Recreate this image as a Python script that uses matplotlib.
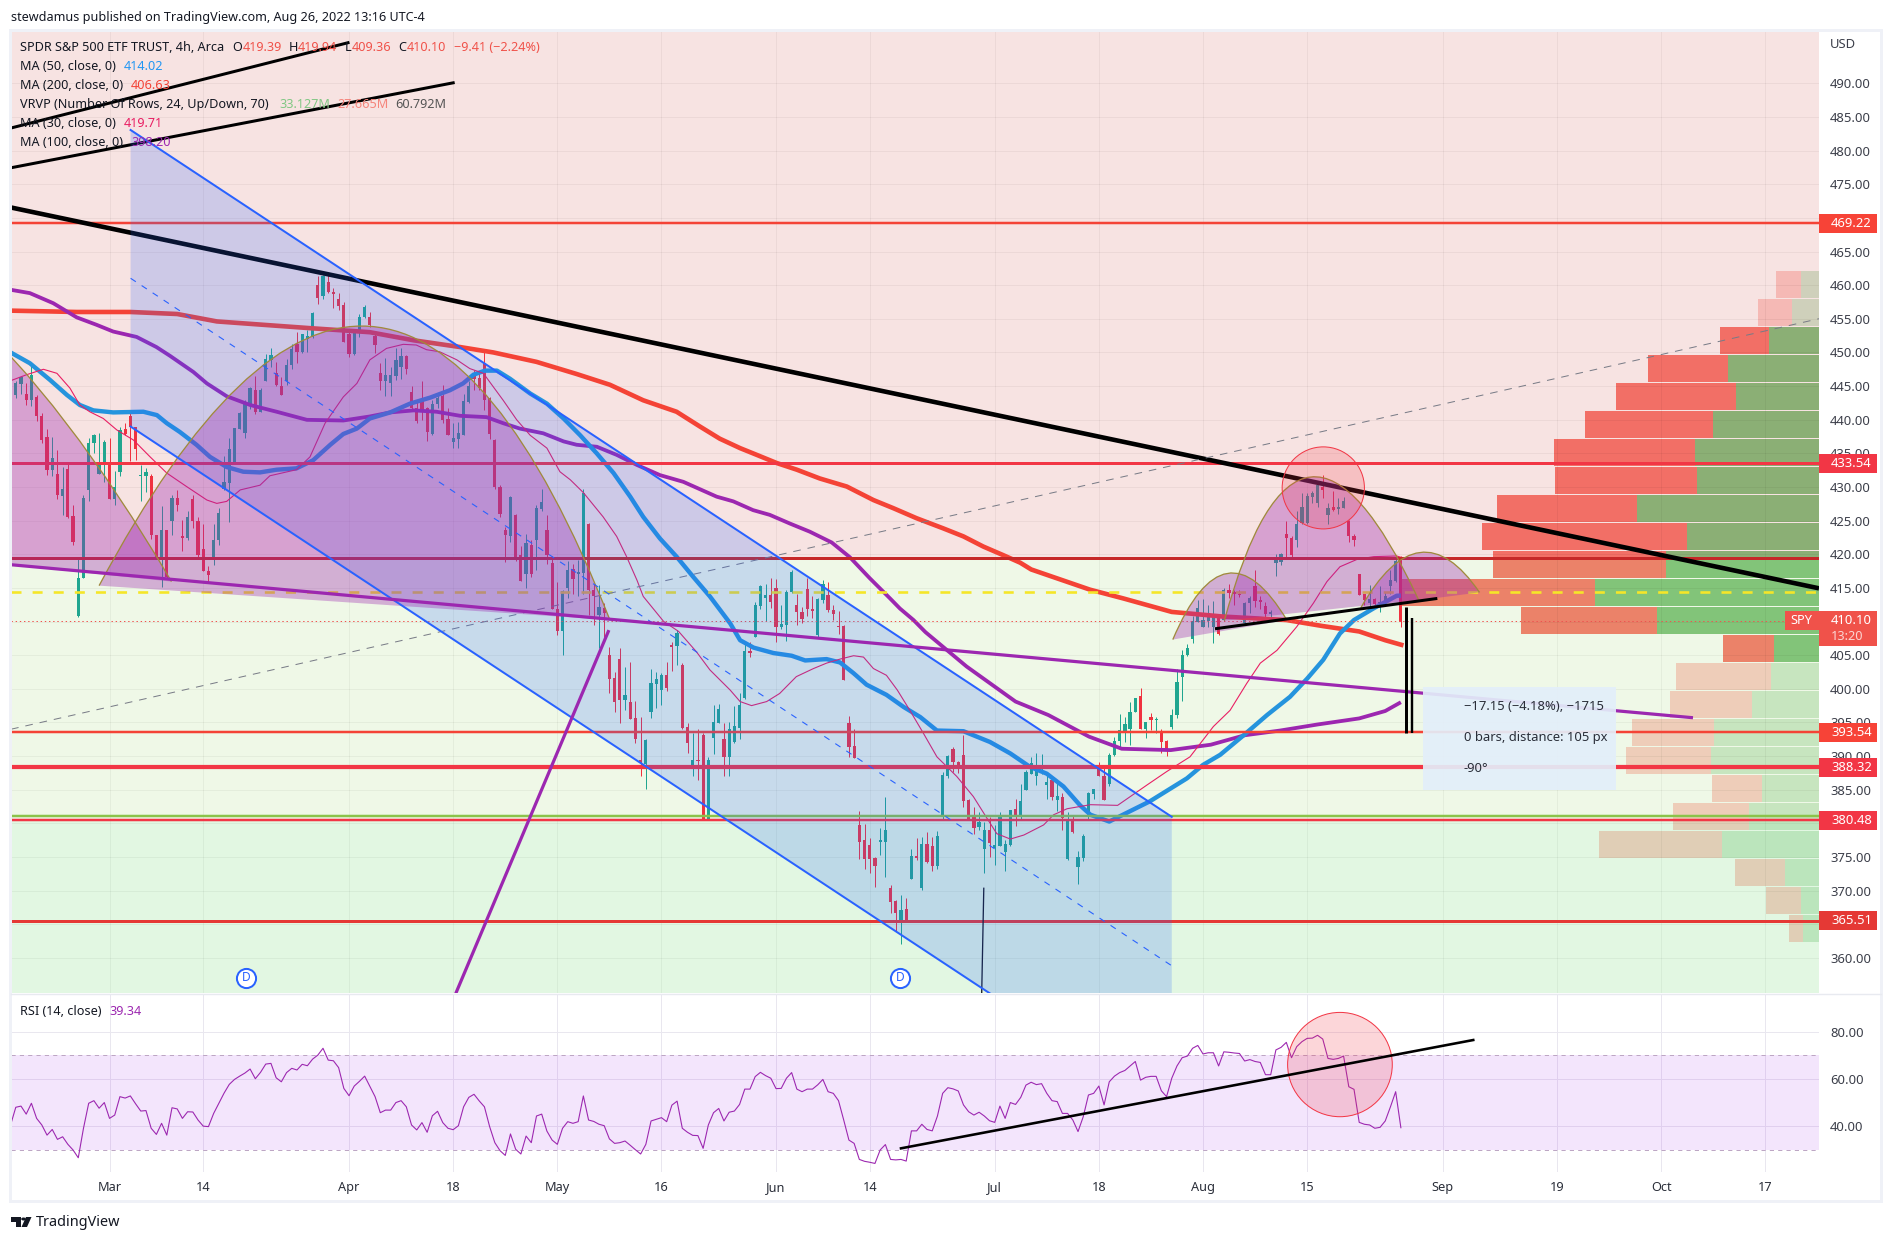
import numpy as np
import matplotlib
matplotlib.use("Agg")
import matplotlib.pyplot as plt
from matplotlib.patches import Rectangle, Ellipse, PathPatch, Polygon, Circle
from matplotlib.path import Path
from matplotlib.transforms import blended_transform_factory

plt.rcParams['font.family'] = ['Noto Sans', 'DejaVu Sans']
plt.rcParams['lines.scale_dashes'] = False

# ---- price bars: (open, high, low, close), one per 4h bar, bar -18 to bar 248; bar 0 = Mar 1
candles = [
(443.8,445.8,443.4,445.5),(445.4,446.5,444.0,446.4),(444.0,445.5,442.3,443.0),(443.0,448.2,442.2,446.7),
(443.5,443.8,440.0,440.6),(440.7,441.1,436.7,437.1),(437.6,438.7,431.9,432.6),(432.6,437.6,431.8,434.5),
(432.1,435.6,428.3,428.9),(428.8,433.1,426.0,429.8),(432.8,433.6,425.6,425.7),(425.8,427.4,421.5,422.0),
(411.0,419.4,410.9,416.7),(416.7,428.9,416.6,428.5),(429.7,437.4,428.1,436.6),(436.7,438.0,435.2,437.8),
(432.1,438.2,432.1,433.9),(433.8,437.1,430.9,436.8),
(433.8,437.4,428.4,428.4),(428.4,432.5,427.4,430.2),(432.4,439.1,431.8,438.6),(438.8,439.7,437.9,438.0),
(440.7,441.3,434.0,439.1),(439.0,439.1,434.1,435.8),(431.8,433.4,428.1,431.9),(431.8,432.9,429.4,432.4),
(431.8,432.1,422.4,423.0),(423.0,423.0,419.7,419.7),(419.5,427.3,415.3,423.8),(423.8,423.8,416.6,416.8),
(425.1,428.9,423.0,428.5),(428.5,429.7,426.5,427.5),(422.8,425.3,420.7,422.5),(422.5,426.6,422.3,425.7),
(428.3,428.9,424.0,425.1),(425.1,425.7,419.8,420.0),(421.0,424.7,417.6,417.6),(417.7,418.4,416.1,417.1),
(419.8,424.6,418.6,422.3),(422.2,427.0,421.5,426.3),(429.9,434.7,429.7,430.9),(430.8,437.4,425.0,435.8),
(433.8,438.9,433.6,438.9),(438.7,441.3,438.7,441.1),(438.1,443.0,437.4,442.4),(442.3,445.0,441.7,444.8),
(444.5,446.6,440.9,441.3),(441.3,444.8,441.3,444.5),(445.9,449.9,445.9,449.1),(449.0,450.7,448.0,449.7),
(447.0,448.7,445.1,445.2),(445.1,446.4,443.8,443.8),(445.9,449.1,445.3,448.2),(448.2,451.4,447.7,450.6),
(451.3,453.1,448.6,450.1),(450.1,452.9,450.0,452.8),(452.1,453.5,450.2,452.5),(452.4,456.1,452.2,456.0),
(460.1,461.4,457.3,458.2),(458.4,461.6,458.1,461.4),(460.5,462.1,458.9,459.1),(459.0,459.6,456.7,458.8),
(458.0,458.9,456.4,457.0),(457.1,457.6,451.7,451.7),(452.9,453.2,449.4,449.8),(449.8,453.3,449.7,453.2),
(453.1,455.8,452.4,455.4),(455.3,457.1,455.2,456.9),(455.4,456.1,453.9,454.2),
(452.5,453.0,450.0,451.2),(447.1,448.5,444.5,445.9),(445.9,449.2,443.7,446.7),(445.6,447.9,443.6,446.7),
(446.6,450.8,446.0,449.0),(448.0,450.7,446.2,449.5),(449.5,449.7,446.9,447.6),(444.3,445.1,441.5,441.8),
(441.8,443.1,439.6,439.9),(443.1,445.9,440.1,441.5),(441.8,442.0,436.9,438.3),(438.0,443.1,437.8,442.5),
(442.4,443.9,441.8,443.4),(443.6,445.3,439.6,440.1),(440.2,441.9,437.8,437.9),(436.8,439.7,435.9,437.4),
(437.2,439.8,435.9,438.1),(437.9,443.9,437.8,442.9),(442.8,445.9,442.6,445.1),(447.1,447.5,444.5,446.1),
(446.3,447.4,444.5,444.8),(448.6,450.2,441.5,443.1),(443.4,443.5,437.2,438.0),(437.1,437.3,429.8,430.2),
(430.1,430.5,425.7,426.1),(423.8,424.2,419.0,423.0),(422.9,428.8,422.0,428.7),(426.0,426.1,419.2,419.3),
(420.0,421.4,416.2,416.2),(417.2,423.1,415.1,421.8),(421.6,422.3,416.8,417.2),(422.3,427.5,417.8,427.0),
(426.9,429.8,426.6,427.9),(423.7,426.0,418.7,420.0),(418.9,419.9,412.0,412.1),(412.1,416.1,408.2,408.8),
(408.7,414.8,405.2,414.7),(415.1,419.1,413.6,417.8),(418.0,418.7,414.3,416.5),(417.2,419.3,413.9,417.5),
(417.4,429.8,414.3,429.2),(424.6,424.8,411.1,414.8),(414.9,415.8,409.6,413.9),(411.1,415.6,406.2,412.4),
(412.2,412.9,407.9,411.4),(405.2,406.4,399.5,401.6),(401.8,402.7,396.8,398.3),(404.6,406.2,395.1,398.6),
(398.5,403.5,397.0,399.3),(398.3,404.2,395.7,395.7),(395.8,398.4,392.2,392.7),(389.6,396.0,387.2,389.3),
(389.1,392.7,385.3,392.6),(396.8,403.2,395.9,401.0),(400.9,402.7,397.4,401.7),(400.0,402.5,397.8,402.3),
(402.3,404.2,399.8,400.3),(406.7,407.2,402.9,406.4),(406.5,408.9,403.7,408.4),(403.7,404.0,394.2,394.4),
(394.5,395.1,390.7,392.1),(388.8,393.6,387.3,389.7),(389.7,394.3,386.6,389.5),(393.4,393.6,380.9,380.9),
(380.9,390.1,380.7,389.7),(392.9,397.8,390.5,395.2),(395.1,397.9,395.1,397.2),(392.7,395.1,387.2,390.1),
(390.1,395.3,387.2,394.2),
(392.3,397.6,392.2,394.7),(394.4,399.5,392.7,397.8),(398.8,406.9,398.7,405.8),(405.8,407.2,404.9,405.5),
(407.9,413.0,407.9,412.6),(412.5,415.6,412.0,415.5),(413.6,415.8,410.2,414.1),(414.1,416.6,412.2,413.0),
(415.2,416.5,407.2,409.3),(409.3,412.7,409.0,409.8),(409.6,414.9,407.3,414.5),(414.5,417.8,414.4,417.5),
(412.6,414.3,409.7,411.6),(411.6,412.4,409.9,410.6),(415.0,416.6,411.0,412.0),(412.0,414.0,410.7,411.8),
(408.2,413.7,407.8,413.5),(413.4,416.3,412.9,415.8),(414.1,416.0,411.6,411.9),(411.9,412.6,410.4,411.3),
(409.5,411.8,408.3,409.4),(409.5,409.6,401.5,401.5),(395.1,396.1,390.1,391.5),(391.7,394.3,390.0,390.0),
(380.0,382.1,375.0,377.5),(377.8,380.1,373.5,375.0),(377.0,378.1,372.9,375.0),(375.1,375.3,370.8,373.9),
(377.5,379.6,375.6,377.7),(377.5,384.2,372.3,379.3),(370.6,371.1,366.9,368.6),(368.7,368.9,364.2,367.0),
(365.8,369.6,362.4,367.4),(367.5,369.1,365.6,365.7),(372.0,376.4,372.0,375.4),(375.4,378.0,374.8,375.1),
(370.7,378.2,370.3,377.2),(377.2,378.9,374.3,374.5),(376.9,378.2,373.2,373.9),(373.9,379.1,373.5,378.3),
(381.5,387.9,380.7,387.4),(387.2,390.4,387.0,390.2),(391.3,391.6,387.9,389.4),(389.3,389.5,387.7,388.6),
(390.4,393.3,382.7,383.6),(383.7,383.9,380.8,380.8),(381.2,382.6,378.7,379.6),(379.7,381.9,379.3,380.5),
(376.4,380.5,372.8,379.2),(379.2,381.1,375.3,377.3),(376.6,380.0,374.0,377.0),(376.9,381.9,376.8,381.2),
(376.0,377.7,373.2,377.2),(377.0,382.2,376.9,382.2),(382.3,383.8,379.9,381.2),(381.2,386.1,380.8,383.5),
(385.2,388.2,385.2,387.8),(387.6,390.1,387.6,389.2),(387.3,390.7,385.9,388.6),(388.6,390.5,387.6,388.9),
(385.9,387.6,383.9,386.4),(386.6,386.9,383.7,384.2),(383.7,386.4,382.1,384.3),(384.2,384.7,379.2,381.0),
(375.0,381.9,374.8,380.6),(380.8,381.5,378.8,379.0),(373.8,376.1,371.2,375.3),(375.1,378.7,374.7,378.3),
(381.5,384.9,380.8,384.7),
(384.6,385.4,383.8,385.3),(388.4,389.4,387.2,387.2),(387.3,388.7,383.7,383.7),(386.1,390.6,385.7,390.3),
(390.3,393.1,390.2,392.5),(392.5,396.5,391.2,394.1),(394.0,396.0,392.3,395.0),(394.2,398.3,391.9,396.8),
(396.8,398.9,396.8,398.9),(399.1,400.3,394.2,394.3),(394.2,395.3,392.9,395.2),(396.0,396.6,394.1,395.5),
(395.6,396.0,393.6,395.7),(394.0,394.2,390.7,392.3),(392.5,392.6,390.2,390.9),(394.5,397.2,394.2,396.3),
(396.3,403.1,395.8,401.2),(402.0,405.9,398.4,405.2),(405.2,406.9,405.0,406.2),(407.6,411.0,407.0,410.3),
(410.1,413.3,410.1,412.2),(409.3,413.5,409.3,410.4),(410.2,412.6,409.3,411.4),(409.3,413.2,407.0,410.9),
(410.7,411.1,408.2,408.3),(410.4,415.1,410.2,414.8),(414.8,415.8,413.6,414.4),(414.5,414.8,412.6,414.3),
(414.3,414.9,413.8,414.1),(410.0,413.1,409.9,412.9),(412.9,414.0,411.4,413.7),(415.5,417.8,412.4,413.2),
(413.4,414.0,412.1,413.0),(412.5,413.0,410.9,411.3),(411.3,411.9,410.7,411.6),(418.9,420.2,416.9,419.3),
(419.0,420.3,418.6,420.2),(423.1,425.1,419.7,422.6),(422.5,422.9,419.5,420.0),(422.2,426.6,421.3,424.7),
(424.8,429.2,424.7,427.2),(424.8,429.3,424.7,428.8),(428.7,429.5,427.7,429.2),(427.8,430.7,427.1,430.4),
(430.2,431.9,428.5,429.7),(426.0,427.7,424.7,427.0),(427.1,429.6,426.6,426.7),(426.9,428.5,426.2,427.2),
(427.0,428.6,427.0,428.1),(425.1,425.2,422.0,422.9),(422.9,423.1,421.4,422.2),(417.2,417.3,414.1,414.1),
(414.2,414.3,412.6,413.4),(412.9,415.6,412.4,413.5),(413.5,413.6,412.5,412.8),(412.9,415.4,411.6,413.1),
(413.0,414.6,412.6,413.9),(415.4,417.8,414.3,416.4),(416.2,419.8,416.1,419.2),(419.39,419.94,409.36,410.10),
]
assert len(candles) == 267

# readings above were taken with a first estimate of the axis scale; this refines it
def cal(v):
    return 490 - (490 - np.asarray(v, dtype=float)) * 6.74 / 6.725

opens, highs, lows, closes = [cal(v) for v in zip(*candles)]
bars = np.arange(-18, -18 + len(candles))

# ---- moving averages, read at knots (bar, value)
ma200_bars = [-19,-6.3,4,13,20.6,29.5,38.5,50,58.4,67.3,73.7,82,89.7,96.1,102.5,108.9,113.4,117.2,121.1,124.3,128.1,132,136.4,141.6,146.7,150.5,155,160.1,164,167.8,171.7,174.9,177,188.3,194.7,204,214,226,233,240,245,248.5]
ma200_vals = [456.3,456.1,456.1,455.8,454.7,454.2,453.7,453.1,451.9,450.9,450.1,448.7,446.9,445.3,443.0,441.3,439.1,437.3,435.9,434.9,433.7,432.7,431.4,430.2,428.2,427.0,425.5,424.0,422.8,421.3,420.0,418.9,417.9,414.9,413.6,411.6,410.9,410.4,409.5,408.7,407.4,406.63]
ma100_bars = [-19,-15.3,-10.8,-6.3,-2.5,0.7,5.2,9,11.6,16.1,18.7,22.5,27,32.1,37.9,44.9,50,53.9,58.4,62.8,67.3,72.4,75.6,78.8,83.3,87.2,89.7,93.6,97.4,101.3,105.7,110.2,113.4,116.6,119.8,123.6,126.8,130.7,134.5,138.7,142.2,146,149.9,151.8,154.4,156.7,164.6,174,180.3,188.1,194.4,203.8,211.5,218,224.8,232,240,245,248]
ma100_vals = [459.4,458.9,457.4,455.3,454.2,453.2,452.4,450.9,449.6,447.2,445.5,443.6,442.3,441.3,440.1,440.0,440.6,441.2,441.5,441.3,440.7,440.5,439.6,438.8,438.1,436.9,436.4,436.1,434.9,433.4,431.9,430.9,429.8,428.7,428.0,426.7,426.0,424.7,423.5,421.9,419.7,416.6,413.6,412.1,410.4,408.6,403.5,398.3,396.3,393.1,391.3,391.1,391.9,393.3,394.0,394.9,395.8,396.9,398.2]
ma50_bars = [-19,-15.3,-11.4,-8.2,-5.7,-3.1,0.7,6.5,9.1,11,13.5,16.7,19.3,22.5,25.7,28.9,32.1,35.9,39.1,42.4,44.9,47.5,50,53.9,57.7,61.6,65.4,67.9,69.9,72.1,74.4,76.9,80.8,84,87.2,90.4,93.6,96.8,100,102.5,105.7,108.9,112.1,115.3,119.2,121.1,123.7,127.5,131,133.6,137.7,140.3,142.9,145.4,149.2,152.5,155.7,158.9,164,169.1,173,176.8,180,183.2,186.4,188.4,192,199.8,206.9,210,213.3,217.8,222.3,226.7,230,233.1,236.3,239,242.7,247.2,248]
ma50_vals = [450.1,448.5,446.0,443.8,442.3,441.5,441.2,441.3,440.8,439.6,438.3,436.4,434.6,433.1,432.4,432.3,432.7,432.9,434.1,436.4,438.0,438.8,440.3,441.2,442.5,443.4,444.5,445.5,446.8,447.4,447.4,446.2,444.0,442.5,440.3,437.8,435.1,432.2,428.7,425.7,422.5,419.8,416.8,413.9,409.9,407.4,406.3,405.5,405.1,404.4,404.6,404.1,402.5,400.8,399.3,397.5,396.0,394.0,393.9,392.3,390.6,388.6,387.6,385.7,382.9,381.5,380.5,383.5,386.9,388.9,390.4,393.3,396.3,399.0,401.7,404.5,408.4,410.4,412.1,414.0,414.02]
ma30_bars = [-19,-15.9,-12.7,-10.1,-7.6,-5.7,-3.8,-1.2,1.4,4.6,7.8,11,14.8,18.7,20.6,22.5,25.1,28.9,30.8,35.9,38.5,41.4,44.9,47.5,50,53.2,56.4,58.9,60.9,63.4,66.7,69.2,71.8,75.6,78.2,80.8,84,86.5,88.5,91,94.8,97.4,99.3,101.3,102.5,106.4,109.3,112.7,115.3,119.2,121.1,123.3,126.2,128.7,131.9,135.2,137.7,140.3,142.9,144.8,146.7,149.2,151.3,153.7,156.3,158.9,162.7,165.9,168.5,170.4,173,175.6,179.4,181.3,183.9,188.4,193.6,199.2,203,207.5,212,215.2,218.4,221,224.2,228,231.2,233.8,236.3,239.6,242.8,247.2,248]
ma30_vals = [445.9,446.8,447.6,447.0,444.8,442.3,441.3,440.3,438.6,437.1,434.6,432.2,430.2,428.2,427.7,428.0,429.7,430.4,431.8,432.7,434.6,439.6,443.5,445.5,449.0,450.7,451.3,451.2,450.5,450.2,449.0,447.7,447.0,443.0,440.1,437.8,435.9,432.4,431.2,429.3,425.7,422.8,419.8,416.3,413.9,410.2,408.7,405.7,403.0,400.0,398.3,397.7,398.3,399.5,402.0,403.2,404.0,404.6,405.1,404.9,403.2,402.2,400.0,397.0,393.6,390.1,387.2,384.2,381.0,378.7,377.9,378.5,380.0,381.5,382.4,383.0,382.9,385.9,387.9,390.1,394.6,397.0,401.0,404.0,405.9,409.4,412.9,416.1,418.3,419.4,419.8,419.9,419.71]

# ---- RSI per bar, bar -19 to bar 248
rsi_values = [
40.5,48,48.5,45.1,49.7,43.3,40.5,36.2,38.6,34.4,35.5,32.3,29.9,26.6,39.1,49.7,50.8,47.6,50,
43.3,44.7,52.5,51.9,52.8,49.5,46.4,46.6,39.1,36.5,41.2,36.2,47.8,47.3,43.3,46.1,46,42.6,40,39.8,45.4,49.7,
54,57.7,59.8,61.2,62.5,64.2,60.1,62.8,66.3,66.6,60.5,58.8,62.7,64.5,63.8,66.2,65.6,68.4,70.1,73,68,67.7,64.8,56,52.9,57,
59,61.2,56.8,52.5,45.7,46.8,46.8,50,50.8,48.2,40.5,38.4,41.5,37.4,44.4,46.3,41.5,39.1,38.5,40.2,48.2,52.2,53.5,50.7,48.2,39.8,33,29.6,27.6,
36.7,30.2,28.2,35.8,33,44.3,45.1,37.9,34.1,32.3,39.1,41.9,41.2,41.9,52.8,42.6,42,40.8,40.2,34.6,32.7,33,33.7,31.9,30,28.2,32.3,42.2,42.9,43.6,
41.9,48.9,50.6,39.1,37.4,36.1,36,30.6,40.5,45.7,47.5,42.2,45.9,46.4,49.2,55.7,55.7,61,62.8,61.4,60.3,55.9,56,60.3,62.7,55.7,54.6,55.7,55.7,57.5,
59.8,54.6,53.9,50.8,42.6,34.1,32.7,25.9,25.1,24.7,24.2,29.9,32.2,25.9,25.7,25.9,25.2,38,38,40.8,38.6,38,44.3,53.9,56.3,55.8,54.9,
49,46.1,44.7,45.9,44.3,42.3,41.6,48.5,43.3,50,49.2,52.2,57.4,58.6,57.6,58,53.9,50.8,50.4,45.4,45.4,42.6,37.7,44,53.2,53.9,57,49,58.8,61.2,62.7,63.6,65.5,67.4,
59.5,60.7,61.1,61.1,55,52.5,60.3,65.5,69,69.7,73,74.2,70.6,71.1,71.1,65.5,71.5,71.3,71,70.8,67.6,68.2,67.4,67,61.8,61.8,72.3,73.4,75.5,69,73.7,75.8,77.2,77.3,78.5,76.9,
68.7,68.3,68.7,69.7,56.7,55.6,41.6,40.8,40.5,39.1,39.5,42.2,48.2,54.6,39.34,
]
rsi_bars = np.arange(-19, -19 + len(rsi_values))

# ---- volume profile rows (millions of shares), top row first
vp_top = 462.12
vp_step = 4.164
vp_height = 4.015
vp_down = [.35,.46,.67,1.09,1.64,1.75,1.93,1.93,1.91,2.80,2.37,2.66,1.86,.69,1.29,1.12,1.11,1.16,.68,1.04,1.68,.69,.48,.19]
vp_up = [.24,.37,.68,1.24,1.13,1.45,1.69,1.67,2.49,1.80,2.09,3.06,2.21,.62,.66,.92,1.44,1.48,.78,.96,1.33,.46,.24,.22]
vp_strong = [0,0,1,1,1,1,1,1,1,1,1,1,1,1,0,0,0,0,0,0,0,0,0,0]

# ---- axis ticks
tick_bars = [0,18,46,66,86,106,128,146,170,190,210,230,256,278,298,318]
tick_labels = ['Mar','14','Apr','18','May','16','Jun','14','Jul','18','Aug','15','Sep','19','Oct','17']
month_labels = ['Mar','Apr','May','Jun','Jul','Aug','Sep','Oct']
price_ticks = list(range(360, 495, 5))
rsi_ticks = [40, 60, 80]

# ---- horizontal levels
levels = [(469.22,'#f44336',2.5),(433.54,'#f23645',3),(419.45,'#c62828',3),(393.54,'#f44336',2.5),
          (388.32,'#f23645',4.2),(380.48,'#f23645',2.5),(381.1,'#8bc34a',2.5),(365.51,'#e53935',3)]
tags = [(469.22,'#f74337'),(433.54,'#f23645'),(393.54,'#f74337'),(388.32,'#f23645'),(380.48,'#f23645'),(365.51,'#e53935')]

W, H = 1893, 1242
PX = 0.72
fig = plt.figure(figsize=(W/100, H/100), dpi=100, facecolor='white')
def rect(l, t, r, b):
    return [l/W, 1-b/H, (r-l)/W, (b-t)/H]
ax = fig.add_axes(rect(11, 30.5, 1819, 993))
ar = fig.add_axes(rect(11, 994, 1819, 1171.7))
xlim = (-18.92, 328.3)
ax.set_xlim(*xlim); ar.set_xlim(*xlim)
ax.set_ylim(354.76, 497.88)
ar.set_ylim(20.7, 96)

for a in (ax, ar):
    for s in a.spines.values():
        s.set_visible(False)
    a.set_axisbelow(True)
    a.yaxis.tick_right()
    a.set_xticks(tick_bars)
    a.tick_params(length=0, labelsize=9.4, labelcolor='#3c3f4a', pad=8)
ax.set_yticks(price_ticks)
ax.set_yticklabels([f'{v}.00' for v in price_ticks])
ax.tick_params(axis='x', labelbottom=False)
ax.grid(True, color='black', alpha=0.05, lw=PX)
ar.set_yticks(rsi_ticks)
ar.set_yticklabels([f'{v}.00' for v in rsi_ticks])
ar.set_xticklabels(tick_labels)
for lab in ar.get_xticklabels():
    if lab.get_text() in month_labels:
        lab.set_fontweight('bold')
    lab.set_fontsize(9.2)
ar.tick_params(axis='x', pad=7, labelcolor='#2a2e39')
ar.grid(True, color='#e9e7ef', lw=PX)

# --- volume profile on its own mirrored axis
vx = ax.twiny()
vx.set_xlim(24.70, 0)
vx.set_ylim(ax.get_ylim())
vx.axis('off')
vx.set_zorder(0)
ax.set_zorder(1)
ax.patch.set_alpha(0)
vy = [vp_top - vp_height/2 - k*vp_step for k in range(len(vp_up))]
for y, u, d, s in zip(vy, vp_up, vp_down, vp_strong):
    al = 1.0 if s else 0.36
    vx.barh(y, u, height=vp_height, color=(129/255,195/255,128/255), alpha=al, lw=0)
    vx.barh(y, d, left=u, height=vp_height, color=(250/255,120/255,110/255), alpha=al, lw=0)

# --- background zones (drawn above the volume profile)
ax.axhspan(419.45, 497.88, color=(200/255,60/255,55/255), alpha=0.14, lw=0, zorder=1)
ax.axhspan(380.48, 419.45, color=(139/255,205/255,74/255), alpha=0.13, lw=0, zorder=1)
ax.axhspan(354.76, 380.48, color=(76/255,210/255,80/255), alpha=0.16, lw=0, zorder=1)

# --- candles
up = closes >= opens
UP, DN = '#20a68f', '#f0323f'
cols = [UP if u else DN for u in up]
ax.vlines(bars, lows, highs, colors=cols, lw=1*PX, zorder=2)
ax.bar(bars, np.maximum(np.abs(closes-opens), 0.15), bottom=np.minimum(opens, closes),
       width=0.62, color=cols, lw=0, zorder=2)

# --- moving averages
ax.plot(ma200_bars, cal(ma200_vals), color='#f44336', lw=4.6*PX, zorder=3, solid_capstyle='butt')
ax.plot(ma100_bars, cal(ma100_vals), color='#9c27b0', lw=3.8*PX, zorder=3, solid_capstyle='butt')
ax.plot(ma50_bars, cal(ma50_vals), color='#2594dd', lw=4.4*PX, zorder=3, solid_capstyle='butt')
ax.plot(ma30_bars, cal(ma30_vals), color='#e91e63', lw=1.1*PX, zorder=3)

# --- levels
for v, c, w in levels:
    ax.axhline(v, color=c, lw=w*PX, zorder=3.2)
ax.axhline(414.4, color='#f5e628', lw=2.6*PX, dashes=(7.2, 8), zorder=3.2)
ax.axhline(410.10, color='#ef5350', lw=1*PX, dashes=(1, 2), zorder=3.2)

# --- trend lines
ax.plot([-18.9, 328.3], cal([471.6, 415.1]), color='black', lw=4.6*PX, zorder=3.3, solid_capstyle='butt')
ax.plot([-18.9, 45.8], cal([483.4, 496.05]), color='black', lw=3*PX, zorder=3.3)
ax.plot([-18.9, 66], cal([477.5, 490.1]), color='black', lw=3*PX, zorder=3.3)
ax.plot([-18.9, 328.3], cal([394.2, 455.1]), color='#787b86', lw=1*PX, dashes=(5.5, 5), zorder=3.3)
ax.plot([167.9, 167.5], cal([370.6, 355]), color='#131722', lw=1.3*PX, zorder=3.3)

# --- blue parallel channel
ax.add_patch(Polygon(list(zip([4.05,204,204,4.05], cal([483.1,381.2,337.2,439.1]))), closed=True,
                     facecolor='#2962ff', alpha=0.2, lw=0, zorder=4))
ax.plot([4.05,204], cal([483.1,381.2]), color='#2962ff', lw=2*PX, zorder=5)
ax.plot([4.05,204], cal([439.1,337.2]), color='#2962ff', lw=2*PX, zorder=5)
ax.plot([4.05,204], cal([461.1,359.1]), color='#2962ff', lw=1.1*PX, dashes=(4.5, 5), zorder=5)

# --- curved shoulder / head shapes (start, control, end)
curves = [((-149.7,428.9),(-69.1,522.9),(11.9,416.1)),
          ((-2.0,415.5),(52.9,495.0),(96.1,410.4)),
          ((204.2,407.5),(214.2,425.7),(226.1,410.4)),
          ((214.1,410.3),(228.6,451.4),(251.4,413.4)),
          ((240.3,412.2),(251.6,427.5),(263.1,414.5))]
for p0, c, p2 in curves:
    p0, c, p2 = [(q[0], float(cal(q[1]))) for q in (p0, c, p2)]
    ax.add_patch(PathPatch(Path([p0,c,p2,p0],[Path.MOVETO,Path.CURVE3,Path.CURVE3,Path.CLOSEPOLY]),
                           facecolor='#9c27b0', alpha=0.35, lw=0, zorder=4.5))
    ax.add_patch(PathPatch(Path([p0,c,p2],[Path.MOVETO,Path.CURVE3,Path.CURVE3]),
                           facecolor='none', edgecolor='#a08a3c', lw=1.3*PX, zorder=4.6))

# --- circles
ax.add_patch(Ellipse((233.1,float(cal(430.0))), 15.8, 12.2, facecolor=(242/255,54/255,69/255,0.2),
                     edgecolor='#f23645', lw=1*PX, zorder=4.7))
ar.add_patch(Ellipse((236.3,66.1), 20.1, 44.2, facecolor=(242/255,54/255,69/255,0.2),
                     edgecolor='#f23645', lw=1*PX, zorder=4.7))

# --- purple and black drawing lines on top
ax.plot([-18.9, 304.1], cal([418.6, 395.9]), color='#9c27b0', lw=3.2*PX, zorder=5, solid_capstyle='butt')
ax.plot([95.9, 66.5], cal([408.9, 355]), color='#9c27b0', lw=3.2*PX, zorder=5, solid_capstyle='butt')
ax.plot([212.3, 255.0], cal([409.1, 413.6]), color='black', lw=3*PX, zorder=5, solid_capstyle='butt')
ax.plot([249, 249], cal([412.4, 393.6]), color='black', lw=3*PX, zorder=5, solid_capstyle='butt')
ax.plot([250.1, 250.1], cal([410.7, 393.6]), color='black', lw=2.4*PX, zorder=5, solid_capstyle='butt')

# --- measuring box
bb0, bb1 = cal([385.2, 400.4])
ax.add_patch(Rectangle((252.3,bb0), 37.1, bb1-bb0, facecolor='#e3effa', alpha=0.92, lw=0, zorder=6))

# --- date-anchored badges
for b in (26.2, 151.9):
    ax.scatter([b],[357.0], s=190, facecolor='white', edgecolor='#2962ff', lw=2*PX, zorder=7, clip_on=True)
    ax.text(b, 357.0, 'D', color='#2962ff', fontsize=8.6, fontweight='bold', ha='center', va='center', zorder=8)

# --- price tags at right
tr = blended_transform_factory(ax.transAxes, ax.transData)
def xf(px):
    return (px-11)/1808
for v, c in tags:
    ax.add_patch(Rectangle((1, v-1.41), 58/1808, 2.82, transform=tr, facecolor=c, lw=0, clip_on=False, zorder=9))
    ax.text(xf(1831), v, f'{v:.2f}', transform=tr, color='white', fontsize=9.4, va='center', ha='left', zorder=10, clip_on=False)
spy = '#f0524a'
ax.add_patch(Rectangle((xf(1784.5), 408.69), 1-xf(1784.5), 2.82, transform=tr, facecolor=spy, lw=0, clip_on=False, zorder=9))
ax.add_patch(Rectangle((1, 406.35), 58/1808, 5.16, transform=tr, facecolor=spy, lw=0, clip_on=False, zorder=9))
ax.text(xf(1790), 410.1, 'SPY', transform=tr, color='white', fontsize=9.2, va='center', zorder=10)
ax.text(xf(1831), 410.1, '410.10', transform=tr, color='white', fontsize=9.4, va='center', zorder=10, clip_on=False)
ax.text(xf(1831), 407.7, '13:20', transform=tr, color='#fbd5d2', fontsize=9.2, va='center', zorder=10, clip_on=False)

# --- RSI pane
ar.axhspan(30, 70, color=(145/255,5/255,235/255), alpha=0.1, lw=0, zorder=1)
for v in (30, 70):
    ar.axhline(v, color='#bda6c4', lw=1*PX, dashes=(3, 3), zorder=2)
ar.plot(rsi_bars, rsi_values, color='#9c27b0', lw=1.1*PX, zorder=3)
ar.plot([152, 261.9], [30.6, 76.5], color='black', lw=2.6*PX, zorder=5)

# --- texts in figure pixels
def T(x, y, s, c='#3c3f4a', fs=9.1, **kw):
    fig.text(x/W, 1-y/H, s, color=c, fontsize=fs, va='center', ha='left', zorder=20, **kw)

T(11, 17, 'stewdamus published on TradingView.com, Aug 26, 2022 13:16 UTC-4', '#131722', 9.08)
RD = '#f0524a'
T(20, 47.7, 'SPDR S&P 500 ETF TRUST, 4h, Arca', '#131722')
for x, s, c in [(232,'O','#131722'),(242.5,'419.39',RD),(289,'H','#131722'),(298,'419.94',RD),
                (345,'L','#131722'),(351.4,'409.36',RD),(398,'C','#131722'),(407,'410.10',RD),
                (453.5,'\u22129.41 (\u22122.24%)',RD)]:
    T(x, 47.7, s, c)
T(20, 66.7, 'MA (50, close, 0)', '#131722');  T(124, 66.7, '414.02', '#2196f3')
T(20, 85.7, 'MA (200, close, 0)', '#131722'); T(131, 85.7, '406.63', '#f44336')
T(20, 104.7, 'VRVP (Number Of Rows, 24, Up/Down, 70)', '#131722')
T(279, 104.7, '33.127M', '#81c784'); T(337, 104.7, '27.665M', '#f5857c'); T(395, 104.7, '60.792M', '#555')
T(20, 123.7, 'MA (30, close, 0)', '#131722'); T(124, 123.7, '419.71', '#e91e63')
T(20, 142.7, 'MA (100, close, 0)', '#131722'); T(131, 142.7, '398.20', '#9c27b0')
T(20, 1011.7, 'RSI (14, close)', '#131722'); T(109, 1011.7, '39.34', '#9c27b0')
T(1830, 44.5, 'USD', '#3c3f4a', 9.4)
T(1464, 707, '\u221217.15 (\u22124.18%), \u22121715', '#2a2e39', 9.35)
T(1464, 738, '0 bars, distance: 105 px', '#2a2e39', 9.35)
T(1464, 768, '-90\u00b0', '#2a2e39', 9.35)
T(36, 1222, 'TradingView', '#131722', 10.4)

# --- frame and logo in figure pixels
def fpx(x, y):
    return (x/W, 1-y/H)
fig.add_artist(Rectangle(fpx(9.5, 1200.5), (1881-9.5)/W, (1200.5-29.5)/H, transform=fig.transFigure,
                         facecolor='none', edgecolor='#eff1f7', lw=3*PX, zorder=15))
fig.add_artist(plt.Line2D([11/W, 1881/W], [1-993.5/H]*2, color='#e8eaf0', lw=1.4*PX, zorder=15))
fig.add_artist(Polygon([fpx(11,1217),fpx(20.5,1217),fpx(20.5,1227),fpx(15.5,1227),fpx(15.5,1221.5),fpx(11,1221.5)],
                       transform=fig.transFigure, facecolor='#131722', lw=0, zorder=15))
fig.add_artist(Polygon([fpx(26,1217),fpx(31.5,1217),fpx(27,1227),fpx(21.5,1227)],
                       transform=fig.transFigure, facecolor='#131722', lw=0, zorder=15))
fig.add_artist(Circle(fpx(23.5,1219), 2.3/W, transform=fig.transFigure, facecolor='#131722', lw=0, zorder=15))

fig.savefig('out.png', dpi=100, facecolor='white')
